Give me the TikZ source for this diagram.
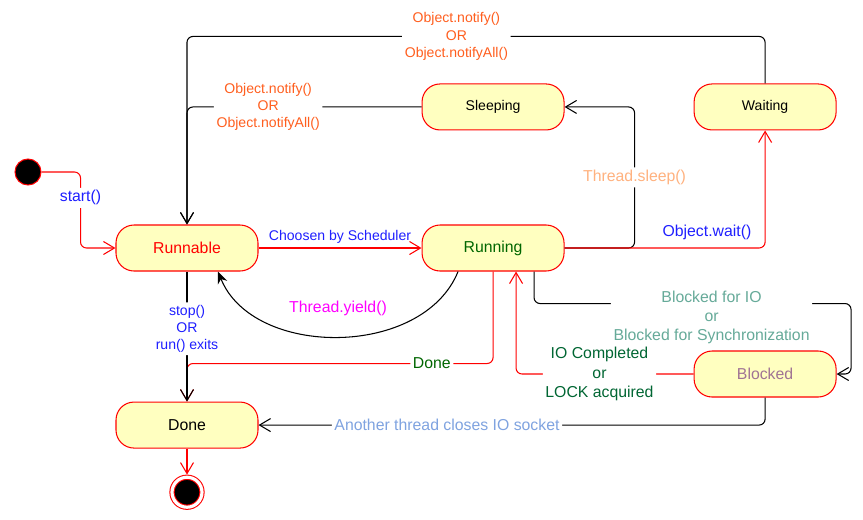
\documentclass[tikz,border=0pt]{standalone}
\usepackage{fontspec}
\setmainfont{Liberation Sans}
\usepackage{xcolor}
\usetikzlibrary{arrows.meta, positioning}
\definecolor{amarilloclaro}{HTML}{FFFFC0}
\definecolor{verde}{HTML}{006600}
\definecolor{verdeoscuro}{HTML}{006633}
\definecolor{naranja}{HTML}{FF5F1F}
\definecolor{naranjaclaro}{HTML}{FFB27F}
\definecolor{azul}{HTML}{1F1FFF}
\definecolor{azulclaro}{HTML}{7FA3E0}
\definecolor{turquesa}{HTML}{66AA99}
\definecolor{malva}{HTML}{A07494}
\definecolor{fucsia}{HTML}{FF00FF}

\begin{document}
\begin{tikzpicture}[
  font=\fontsize{9}{11}\selectfont,
  estado/.style={rectangle, rounded corners=0.36cm, draw=red, line width=0.6pt, fill=amarilloclaro, minimum width=2.84cm, minimum height=0.92cm},
  arr/.style={-{Straight Barb[length=2.2mm, width=2.6mm]}, line width=0.6pt, rounded corners=3.4pt},
  lbl/.style={fill=white, inner sep=1.5pt, align=center},
  peq/.style={font=\fontsize{8}{9.8}\selectfont},
]

\useasboundingbox (0,0) rectangle (17.26,-10.38);

% --- Estados ---
\node[estado, text=red] (runnable) at (3.74,-4.96) {Runnable};
\node[estado, text=verde, right=3.26cm of runnable] (running) {Running};
\node[estado, peq, above=1.88cm of running] (sleeping) {Sleeping};
\node[estado, peq, right=2.58cm of sleeping] (waiting) {Waiting};
\node[estado, text=malva, below=4.4cm of waiting] (blocked) {Blocked};
\node[estado, below=2.6cm of runnable] (done) {Done};

% --- Inicio y fin ---
\node[circle, draw=red, fill=black, line width=0.6pt, minimum size=0.52cm] (ini) at (0.56,-3.44) {};
\node[circle, draw=red, fill=black, line width=0.6pt, double=white, double distance=1.8pt, minimum size=0.6cm, outer sep=1.5pt, below=0.52cm of done] (fin) {};

% --- Transiciones ---
\draw[arr, red] (ini.east) -- ++(0.78,0) |- node[lbl, text=azul, pos=0.17] {start()} (runnable.west);
\draw[arr, red] (runnable) -- node[peq, text=azul, above=1pt, inner sep=1.5pt] {Choosen by Scheduler} (running);
\draw[arr, -{Stealth[length=2.4mm, width=2mm]}] ([xshift=-0.7cm]running.south) to[bend left=68] node[lbl, text=fucsia, yshift=0.56cm] {Thread.yield()} ([xshift=0.62cm]runnable.south);

% --- Hacia Done ---
\draw[arr, red] (running.south) -- ++(0,-1.84) -| node[lbl, text=verde, pos=0.1] {Done} (done.north);
\draw[arr] (runnable) -- node[lbl, peq, text=azul, pos=0.44] {stop()\\OR\\run() exits} (done);
\draw[arr] (blocked.south) |- node[lbl, text=azulclaro, pos=0.814] {Another thread closes IO socket} (done.east);
\draw[arr, red] (done) -- (fin);

% --- Sleeping y Waiting ---
\draw[arr] (running.east) -- ++(1.4,0) |- node[lbl, text=naranjaclaro, pos=0.25] {Thread.sleep()} (sleeping.east);
\draw[arr, red] (running.east) -| node[text=azul, above=3pt, inner sep=1.5pt, pos=0.355] {Object.wait()} (waiting.south);
\draw[arr] (waiting.north) -- ++(0,0.94) -| node[lbl, peq, text=naranja, pos=0.267] {Object.notify()\\OR\\Object.notifyAll()} (runnable.north);
\draw[arr] (sleeping.west) -| node[lbl, peq, text=naranja, pos=0.327] {Object.notify()\\OR\\Object.notifyAll()} (runnable.north);

% --- Blocked ---
\draw[arr] ([xshift=0.82cm]running.south) -- ++(0,-0.64) -- node[lbl, text=turquesa, pos=0.56, yshift=-0.28cm] {Blocked for IO\\or\\Blocked for Synchronization} ++(6.34,0) |- (blocked.east);
\draw[arr, red] (blocked.west) -| node[lbl, text=verdeoscuro, pos=0.265] {IO Completed\\or\\LOCK acquired} ([xshift=0.46cm]running.south);

\end{tikzpicture}
\end{document}
